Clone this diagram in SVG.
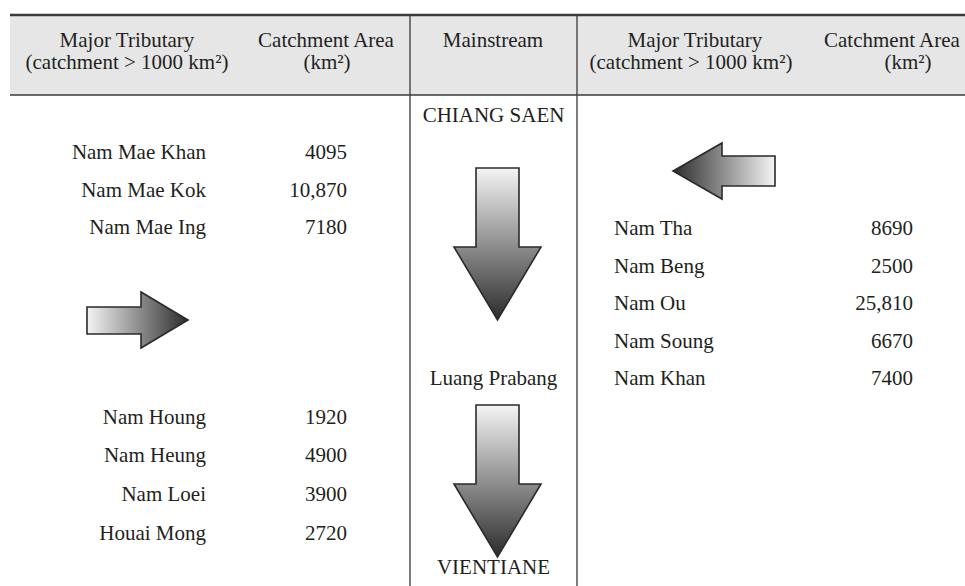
<svg xmlns="http://www.w3.org/2000/svg" width="965" height="586" viewBox="0 0 965 586">
  <defs>
    <linearGradient id="gDown" x1="0" y1="0" x2="0" y2="1">
      <stop offset="0" stop-color="#f4f4f5"/>
      <stop offset="1" stop-color="#2c2c2c"/>
    </linearGradient>
    <linearGradient id="gRight" x1="0" y1="0" x2="1" y2="0">
      <stop offset="0" stop-color="#f4f4f5"/>
      <stop offset="1" stop-color="#2c2c2c"/>
    </linearGradient>
    <linearGradient id="gLeft" x1="1" y1="0" x2="0" y2="0">
      <stop offset="0" stop-color="#f4f4f5"/>
      <stop offset="1" stop-color="#2c2c2c"/>
    </linearGradient>
  </defs>
  <style>
    text { font-family: "Liberation Serif", "Times New Roman", serif; font-size: 21px; fill: #231f20; }
    .c { text-anchor: middle; }
    .e { text-anchor: end; }
    .s { text-anchor: start; }
    .arrow { stroke: #2a2a2a; stroke-width: 1.6; stroke-linejoin: miter; }
    .grid { stroke: #3a3a3a; fill: none; }
  </style>
  <rect width="965" height="586" fill="#ffffff"/>

  <g id="table-frame">
    <rect x="10" y="15" width="955" height="80" fill="#e6e6e7"/>
    <line class="grid" x1="10" y1="15" x2="965" y2="15" stroke-width="2.5"/>
    <line class="grid" x1="10" y1="95" x2="965" y2="95" stroke-width="1.5" stroke="#555"/>
    <line class="grid" x1="410" y1="15" x2="410" y2="586" stroke-width="1.3"/>
    <line class="grid" x1="577" y1="15" x2="577" y2="586" stroke-width="1.3"/>
  </g>

  <g id="header">
    <text class="c" x="127" y="46.5">Major Tributary</text>
    <text class="c" x="127" y="68.5">(catchment &gt; 1000 km²)</text>
    <text class="c" x="326" y="46.5">Catchment Area</text>
    <text class="c" x="327" y="68.5">(km²)</text>
    <text class="c" x="493" y="46.5">Mainstream</text>
    <text class="c" x="695" y="46.5">Major Tributary</text>
    <text class="c" x="691" y="68.5">(catchment &gt; 1000 km²)</text>
    <text class="s" x="824" y="46.5">Catchment Area</text>
    <text class="c" x="908" y="68.5">(km²)</text>
  </g>

  <g id="mainstream">
    <text class="c" x="493.5" y="122">CHIANG SAEN</text>
    <text class="c" x="493.5" y="385">Luang Prabang</text>
    <text class="c" x="493.5" y="574">VIENTIANE</text>
  </g>

  <g id="left-tributaries-upper">
    <text class="e" x="206" y="159">Nam Mae Khan</text>
    <text class="e" x="347" y="159">4095</text>
    <text class="e" x="206" y="196.5">Nam Mae Kok</text>
    <text class="e" x="347" y="196.5">10,870</text>
    <text class="e" x="206" y="234">Nam Mae Ing</text>
    <text class="e" x="347" y="234">7180</text>
  </g>

  <g id="left-tributaries-lower">
    <text class="e" x="206" y="424">Nam Houng</text>
    <text class="e" x="347" y="424">1920</text>
    <text class="e" x="206" y="462">Nam Heung</text>
    <text class="e" x="347" y="462">4900</text>
    <text class="e" x="206" y="501">Nam Loei</text>
    <text class="e" x="347" y="501">3900</text>
    <text class="e" x="206" y="540">Houai Mong</text>
    <text class="e" x="347" y="540">2720</text>
  </g>

  <g id="right-tributaries">
    <text class="s" x="614" y="235">Nam Tha</text>
    <text class="e" x="913" y="235">8690</text>
    <text class="s" x="614" y="272.5">Nam Beng</text>
    <text class="e" x="913" y="272.5">2500</text>
    <text class="s" x="614" y="310">Nam Ou</text>
    <text class="e" x="913" y="310">25,810</text>
    <text class="s" x="614" y="347.5">Nam Soung</text>
    <text class="e" x="913" y="347.5">6670</text>
    <text class="s" x="614" y="385">Nam Khan</text>
    <text class="e" x="913" y="385">7400</text>
  </g>

  <g id="arrows">
    <polygon id="arrow-down-1" class="arrow" fill="url(#gDown)" points="476,168 519,168 519,247 541,247 497.5,320 454,247 476,247"/>
    <polygon id="arrow-down-2" class="arrow" fill="url(#gDown)" points="476,405 519,405 519,484 541,484 497.5,557 454,484 476,484"/>
    <polygon id="arrow-right" class="arrow" fill="url(#gRight)" points="87,307 141,307 141,292 188,320 141,348 141,334 87,334"/>
    <polygon id="arrow-left" class="arrow" fill="url(#gLeft)" points="775,156 722,156 722,143 673,171 722,199 722,186 775,186"/>
  </g>
</svg>
